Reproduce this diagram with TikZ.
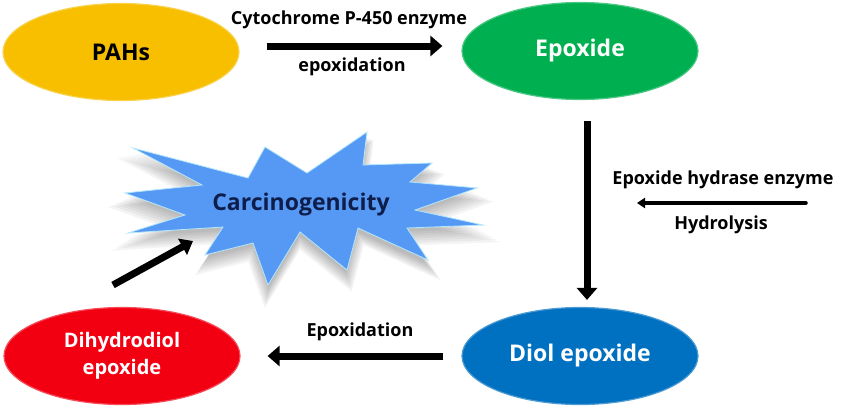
\documentclass[tikz,border=0pt]{standalone}
\usepackage{fontspec}
\setmainfont{Open Sans}
\usetikzlibrary{positioning,arrows.meta,shapes.geometric,calc}

\definecolor{pahcol}{HTML}{F7BF00}
\definecolor{epocol}{HTML}{00B050}
\definecolor{diolcol}{HTML}{0070C0}
\definecolor{dihycol}{HTML}{F20012}
\definecolor{starcol}{RGB}{85,153,245}
\definecolor{navy}{HTML}{0F1D4A}

\tikzset{
  blob/.style={ellipse, minimum width=236pt, minimum height=97pt, inner sep=0pt,
    font=\bfseries\fontsize{23}{26}\selectfont, align=center},
  lbl/.style={font=\bfseries\fontsize{18}{21}\selectfont},
  bigarrow/.style={line width=7pt, -{Triangle[length=12pt,width=20pt]}},
  thinarrow/.style={line width=3.5pt, line cap=round, -{Triangle[length=8pt,width=10pt]}}
}

\def\burst{(133,148) -- (248,178) -- (265,147) -- (307,173) -- (367,132) -- (363,165)
  -- (432,163) -- (410,182) -- (477,188) -- (415,210) -- (483,225) -- (407,228)
  -- (428,260) -- (358,228) -- (347,270) -- (300,232) -- (268,285) -- (253,243)
  -- (205,255) -- (223,227) -- (128,233) -- (185,215) -- (125,193) -- (202,185) -- cycle}

\begin{document}
\begin{tikzpicture}[x=1pt,y=-1pt]
  \useasboundingbox (0,0) rectangle (845,407);

  % the four compounds
  \node[blob, fill=pahcol, draw=pahcol!70!white, line width=1.2pt] (pahs) at (121,52) {PAHs};
  \node[blob, fill=epocol, draw=epocol!70!white, line width=1.2pt, text=white] (epox) at (580,51) {Epoxide};
  \node[blob, fill=diolcol, draw=diolcol!70!white, line width=1.2pt, text=white] (diol) at (580,356) {Diol epoxide};
  \node[blob, fill=dihycol, draw=dihycol!70!white, line width=1.2pt, text=white,
    font=\bfseries\fontsize{20}{27}\selectfont] (dihyd) at (122,356) {Dihydrodiol\\epoxide};

  % soft shadow of the burst
  \foreach \s/\dy in {1.10/16,1.08/14,1.06/12,1.04/10,1.02/8,1.0/6,0.98/4}
    \fill[black, opacity=0.045] [shift={(0,\dy)}, xshift=-300*(\s-1), yshift=215*(\s-1), scale=\s] \burst;

  % the burst
  \fill[starcol] \burst;
  \draw[white!70!cyan, line width=0.8pt, line join=miter] \burst;
  \node[font=\bfseries\fontsize{23}{26}\selectfont, text=navy] (carc) at (301,205) {Carcinogenicity};

  % step labels
  \node[lbl] (cyto) at (349,20) {Cytochrome P-450 enzyme};
  \node[lbl] (epo1) at (352,67) {epoxidation};
  \node[lbl] (hydr) at (723,180) {Epoxide hydrase enzyme};
  \node[lbl] (hyly) at (721,225) {Hydrolysis};
  \node[lbl] (epo2) at (360,332) {Epoxidation};

  % arrows
  \draw[bigarrow, shorten <=27pt, shorten >=19pt] ($(pahs.east)+(0,-6)$) -- ($(epox.west)+(0,-5)$);
  \draw[bigarrow, shorten <=21pt, shorten >=7pt] ($(epox.south)+(7,0)$) -- ($(diol.north)+(7,0)$);
  \draw[bigarrow, shorten <=18pt, shorten >=27pt] (diol.west) -- (dihyd.east);

  \coordinate (hyd0) at (806,203);
  \coordinate (hyd1) at (637,203);
  \draw[thinarrow] (hyd0) -- (hyd1);

  \coordinate (tail) at (113,285);
  \coordinate (tip) at (193,241);
  \draw[bigarrow, -{Triangle[length=12pt,width=18pt]}] (tail) -- (tip);
\end{tikzpicture}
\end{document}
